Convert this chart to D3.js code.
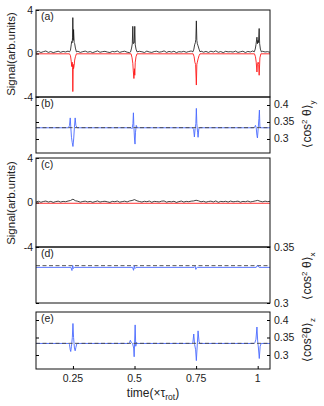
<!DOCTYPE html>
<html>
<head>
<meta charset="utf-8">
<script src="https://cdn.jsdelivr.net/npm/d3@7"></script>
<style>
body { margin: 0; background: #fff; }
svg text { font-family: "Liberation Sans", Arial, sans-serif; fill: #222; }
</style>
</head>
<body>
<svg width="324" height="406"></svg>
<script>
// ---- data ----
var xTicks = [0.25, 0.5, 0.75, 1];
var xTickLabels = ["0.25", "0.5", "0.75", "1"];
var signalTicks = [-4, 0, 4];
var cosTicks = [0.3, 0.35, 0.4];
var cosTicksX = [0.3, 0.35];
var revivals = [0.25, 0.5, 0.75, 1.0];
var isotropic = 1 / 3;

// black trace baseline, sampled every 0.01 from 0.10 to 1.05
var baseTime = d3.range(0.10, 1.0501, 0.01);
var blackNoiseA = [
  0.12,0.20,0.09,0.17,0.23,0.10,0.18,0.08,0.15,0.21,
  0.11,0.19,0.14,0.22,0.09,0.16,0.13,0.20,0.10,0.17,
  0.22,0.12,0.18,0.08,0.16,0.24,0.11,0.17,0.20,0.13,
  0.09,0.19,0.15,0.23,0.10,0.17,0.21,0.12,0.08,0.18,
  0.15,0.11,0.20,0.16,0.09,0.22,0.14,0.10,0.18,0.21,
  0.12,0.16,0.24,0.10,0.19,0.13,0.21,0.08,0.17,0.14,
  0.20,0.11,0.18,0.23,0.15,0.09,0.17,0.22,0.12,0.19,
  0.10,0.21,0.14,0.24,0.11,0.18,0.08,0.20,0.15,0.17,
  0.13,0.22,0.10,0.16,0.21,0.09,0.19,0.14,0.23,0.12,
  0.18,0.10,0.20,0.14,0.17,0.11];
var blackNoiseC = [
  0.05,0.11,0.02,0.09,0.13,0.04,0.10,0.01,0.08,0.12,
  0.04,0.10,0.07,0.13,0.18,0.30,0.16,0.11,0.03,0.09,
  0.12,0.05,0.10,0.02,0.08,0.14,0.04,0.09,0.11,0.06,
  0.01,0.10,0.07,0.13,0.03,0.08,0.12,0.05,0.14,0.18,
  0.26,0.15,0.09,0.04,0.11,0.07,0.13,0.02,0.10,0.08,
  0.05,0.12,0.14,0.03,0.09,0.06,0.11,0.01,0.08,0.13,
  0.04,0.10,0.07,0.12,0.14,0.20,0.15,0.06,0.11,0.03,
  0.09,0.12,0.05,0.14,0.02,0.10,0.07,0.11,0.04,0.13,
  0.06,0.09,0.12,0.03,0.10,0.07,0.13,0.05,0.09,0.14,
  0.19,0.11,0.06,0.12,0.08,0.10];

// (a) black signal around the revivals
var blackSpikeTime = [
  0.236,0.240,0.243,0.245,0.247,0.2485,0.2495,0.251,0.2525,0.255,0.257,0.260,0.264,
  0.484,0.488,0.491,0.493,0.495,0.497,0.499,0.501,0.503,0.506,0.510,
  0.737,0.741,0.744,0.747,0.749,0.751,0.753,0.755,0.758,0.762,0.766,
  0.986,0.990,0.993,0.997,0.999,1.001,1.003,1.006,1.008,1.011,1.015];
var blackSpike = [
  0.15,0.3,0.8,1.1,1.0,1.5,3.3,1.2,2.2,1.0,0.9,0.5,0.15,
  0.15,0.5,0.9,2.5,0.9,1.0,1.0,2.5,0.8,0.4,0.15,
  0.15,0.4,0.8,1.0,1.3,3.0,1.2,0.9,0.7,0.4,0.15,
  0.15,0.4,0.8,1.5,0.9,1.2,1.0,2.3,0.9,0.4,0.15];

// (a) red signal
var redTimeA = [0.10,
  0.236,0.240,0.243,0.245,0.247,0.2485,0.2495,0.251,0.2525,0.255,0.257,0.260,0.264,
  0.486,0.490,0.493,0.495,0.4975,0.4995,0.501,0.503,0.506,0.510,
  0.738,0.742,0.745,0.748,0.751,0.753,0.755,0.758,0.762,0.766,
  0.987,0.991,0.994,0.997,0.999,1.002,1.004,1.006,1.009,1.013,
  1.05];
var redA = [-0.03,
  -0.03,-0.2,-0.7,-1.2,-0.8,-1.3,-3.5,-1.0,-1.4,-1.1,-0.6,-0.3,-0.03,
  -0.03,-0.4,-0.9,-1.6,-2.3,-1.4,-2.0,-0.8,-0.3,-0.03,
  -0.03,-0.3,-0.8,-1.0,-2.9,-1.0,-0.8,-0.5,-0.2,-0.03,
  -0.03,-0.3,-0.8,-1.7,-0.9,-0.8,-1.0,-2.0,-0.4,-0.03,
  -0.03];

// (c) red signal
var redTimeC = [0.10, 1.05];
var redC = [-0.07, -0.07];

// (b) <cos^2 theta>_y
var cosYTime = [0.10,
  0.232,0.236,0.239,0.241,0.244,0.247,0.250,0.253,0.256,0.259,0.262,0.267,
  0.486,0.490,0.4935,0.4955,0.4975,0.500,0.502,0.504,0.507,0.511,
  0.736,0.740,0.743,0.746,0.749,0.751,0.753,0.756,0.758,0.761,0.765,
  0.984,0.988,0.991,0.994,0.997,0.999,1.002,1.005,1.007,1.009,1.013,
  1.05];
var cosY = [0.333,
  0.333,0.340,0.362,0.338,0.305,0.290,0.278,0.300,0.335,0.362,0.340,0.333,
  0.333,0.330,0.345,0.377,0.335,0.300,0.285,0.320,0.340,0.333,
  0.333,0.328,0.306,0.330,0.345,0.390,0.345,0.320,0.305,0.330,0.333,
  0.333,0.336,0.340,0.333,0.310,0.303,0.330,0.360,0.385,0.335,0.333,
  0.333];

// (d) <cos^2 theta>_x
var cosXTime = [0.10,
  0.242,0.246,0.249,0.252,0.256,
  0.492,0.496,0.499,0.502,0.506,
  0.742,0.746,0.749,0.752,0.756,
  0.994,0.998,1.002,1.006,
  1.05];
var cosX = [0.3318,
  0.3318,0.3290,0.3335,0.3308,0.3318,
  0.3318,0.3292,0.3333,0.3308,0.3318,
  0.3318,0.3328,0.3300,0.3315,0.3318,
  0.3318,0.3334,0.3330,0.3318,
  0.3318];

// (e) <cos^2 theta>_z
var cosZTime = [0.10,
  0.232,0.236,0.239,0.241,0.244,0.2475,0.250,0.2525,0.256,0.259,0.262,0.266,
  0.476,0.480,0.483,0.487,0.492,0.4965,0.4985,0.5005,0.5025,0.505,0.508,0.512,
  0.733,0.737,0.7405,0.744,0.748,0.751,0.754,0.758,0.762,0.766,
  0.985,0.989,0.993,0.997,1.000,1.003,1.0065,1.010,1.014,
  1.05];
var cosZ = [0.333,
  0.333,0.330,0.315,0.310,0.325,0.350,0.390,0.350,0.320,0.312,0.322,0.333,
  0.333,0.336,0.342,0.336,0.333,0.320,0.295,0.340,0.386,0.325,0.336,0.333,
  0.333,0.336,0.360,0.330,0.315,0.284,0.320,0.369,0.338,0.333,
  0.333,0.336,0.345,0.380,0.340,0.320,0.290,0.325,0.333,
  0.333];

// ---- helpers ----
function pairs(ts, vs) {
  return ts.map(function(t, i) { return [t, vs[i]]; });
}
// baseline grid away from the revivals, plus the hand-read revival points
function merged(ts, vs, st, sv) {
  var keep = pairs(ts, vs).filter(function(p) {
    return revivals.every(function(r) { return Math.abs(p[0] - r) > 0.016; });
  });
  return keep.concat(pairs(st, sv)).sort(function(a, b) { return a[0] - b[0]; });
}

var svg = d3.select("svg");
var left = 36, right = 270;
var x = d3.scaleLinear().domain([0.1, 1.05]).range([left, right]);

var panels = [
  { id: "a", top: 10,  bottom: 97,  domain: [-4, 4] },
  { id: "b", top: 97,  bottom: 153, domain: [0.2588, 0.4235] },
  { id: "c", top: 158, bottom: 247, domain: [-4, 4] },
  { id: "d", top: 247, bottom: 303, domain: [0.3, 0.35] },
  { id: "e", top: 312, bottom: 369, domain: [0.26, 0.4229] }
];
panels.forEach(function(p) {
  p.y = d3.scaleLinear().domain(p.domain).range([p.bottom, p.top]);
  svg.append("clipPath").attr("id", "clip-" + p.id)
    .append("rect").attr("x", left).attr("y", p.top)
    .attr("width", right - left).attr("height", p.bottom - p.top);
});
var P = {};
panels.forEach(function(p) { P[p.id] = p; });

function drawLine(p, data, color, width, dash) {
  var line = d3.line().x(function(d) { return x(d[0]); }).y(function(d) { return p.y(d[1]); });
  svg.append("path").datum(data)
    .attr("clip-path", "url(#clip-" + p.id + ")")
    .attr("d", line)
    .attr("fill", "none")
    .attr("stroke", color)
    .attr("stroke-width", width)
    .attr("stroke-dasharray", dash || null)
    .attr("stroke-linejoin", "round");
}

var blue = "#4a6aff";

// (a)
drawLine(P.a, pairs(redTimeA, redA), "#ff1a1a", 0.9);
drawLine(P.a, merged(baseTime, blackNoiseA, blackSpikeTime, blackSpike), "#111", 0.8);
// (b)
drawLine(P.b, pairs(cosYTime, cosY), blue, 0.9);
drawLine(P.b, [[0.1, isotropic], [1.05, isotropic]], "#444", 0.9, "4,2.5");
// (c)
drawLine(P.c, pairs(redTimeC, redC), "#ff1a1a", 0.9);
drawLine(P.c, pairs(baseTime, blackNoiseC), "#111", 0.8);
// (d)
drawLine(P.d, [[0.1, isotropic], [1.05, isotropic]], "#444", 0.9, "4,2.5");
drawLine(P.d, pairs(cosXTime, cosX), blue, 0.9);
// (e)
drawLine(P.e, pairs(cosZTime, cosZ), blue, 0.9);
drawLine(P.e, [[0.1, isotropic], [1.05, isotropic]], "#444", 0.9, "4,2.5");

// frames
panels.forEach(function(p) {
  svg.append("rect").attr("x", left).attr("y", p.top)
    .attr("width", right - left).attr("height", p.bottom - p.top)
    .attr("fill", "none").attr("stroke", "#111").attr("stroke-width", 1);
});

// left signal axes
["a", "c"].forEach(function(id) {
  var p = P[id];
  var ax = svg.append("g").attr("transform", "translate(" + left + ",0)")
    .call(d3.axisRight(p.y).tickValues(signalTicks).tickSize(3).tickFormat(""));
  ax.select(".domain").remove();
  ax.selectAll("line").attr("stroke", "#111");
  svg.selectAll(null).data(signalTicks).enter().append("text")
    .attr("x", left - 3).attr("y", function(d) { return p.y(d) + 3.5; })
    .attr("text-anchor", "end").attr("font-size", "10.5px")
    .text(function(d) { return d; });
});

// right cos^2 axes with mirrored ticks
[["b", cosTicks], ["d", cosTicksX], ["e", cosTicks]].forEach(function(c) {
  var p = P[c[0]], tv = c[1];
  var l = svg.append("g").attr("transform", "translate(" + left + ",0)")
    .call(d3.axisRight(p.y).tickValues(tv).tickSize(3).tickFormat(""));
  l.select(".domain").remove();
  var r = svg.append("g").attr("transform", "translate(" + right + ",0)")
    .call(d3.axisLeft(p.y).tickValues(tv).tickSize(3).tickFormat(""));
  r.select(".domain").remove();
  svg.selectAll(null).data(tv).enter().append("text")
    .attr("x", right + 4).attr("y", function(d) { return p.y(d) + 3.5; })
    .attr("font-size", "10.5px")
    .text(function(d) { return d; });
});

// bottom time axis on (e)
var xa = svg.append("g").attr("transform", "translate(0," + P.e.bottom + ")")
  .call(d3.axisTop(x).tickValues(xTicks).tickSize(3).tickFormat(""));
xa.select(".domain").remove();
svg.selectAll(null).data(xTicks).enter().append("text")
  .attr("x", function(d) { return x(d); }).attr("y", 382)
  .attr("text-anchor", "middle").attr("font-size", "10.5px")
  .text(function(d, i) { return xTickLabels[i]; });

var xl = svg.append("text").attr("x", (left + right) / 2).attr("y", 397)
  .attr("text-anchor", "middle").attr("font-size", "12px");
xl.append("tspan").text("time(\u00d7\u03c4");
xl.append("tspan").attr("dy", 3).attr("font-size", "8.5px").text("rot");
xl.append("tspan").attr("dy", -3).text(")");

// panel tags
panels.forEach(function(p) {
  svg.append("text").attr("x", left + 5).attr("y", p.top + 10)
    .attr("font-size", "10.5px").text("(" + p.id + ")");
});

// left y labels
[["a", 54], ["c", 203]].forEach(function(c) {
  svg.append("text").attr("transform", "translate(15," + c[1] + ") rotate(-90)")
    .attr("text-anchor", "middle").attr("font-size", "11.5px")
    .text("Signal(arb.units)");
});

// right y labels
[["y", 124, " "], ["x", 276, " "], ["z", 340, ""]].forEach(function(c) {
  var t = svg.append("text").attr("transform", "translate(311," + c[1] + ") rotate(-90)")
    .attr("text-anchor", "middle").attr("font-size", "12px");
  t.append("tspan").text("\u27e8cos");
  t.append("tspan").attr("dy", -4.5).attr("font-size", "8px").text("2");
  t.append("tspan").attr("dy", 4.5).text(c[2] + "\u03b8\u27e9");
  t.append("tspan").attr("dy", 3.5).attr("font-size", "8px").text(c[0]);
});
</script>
</body>
</html>
